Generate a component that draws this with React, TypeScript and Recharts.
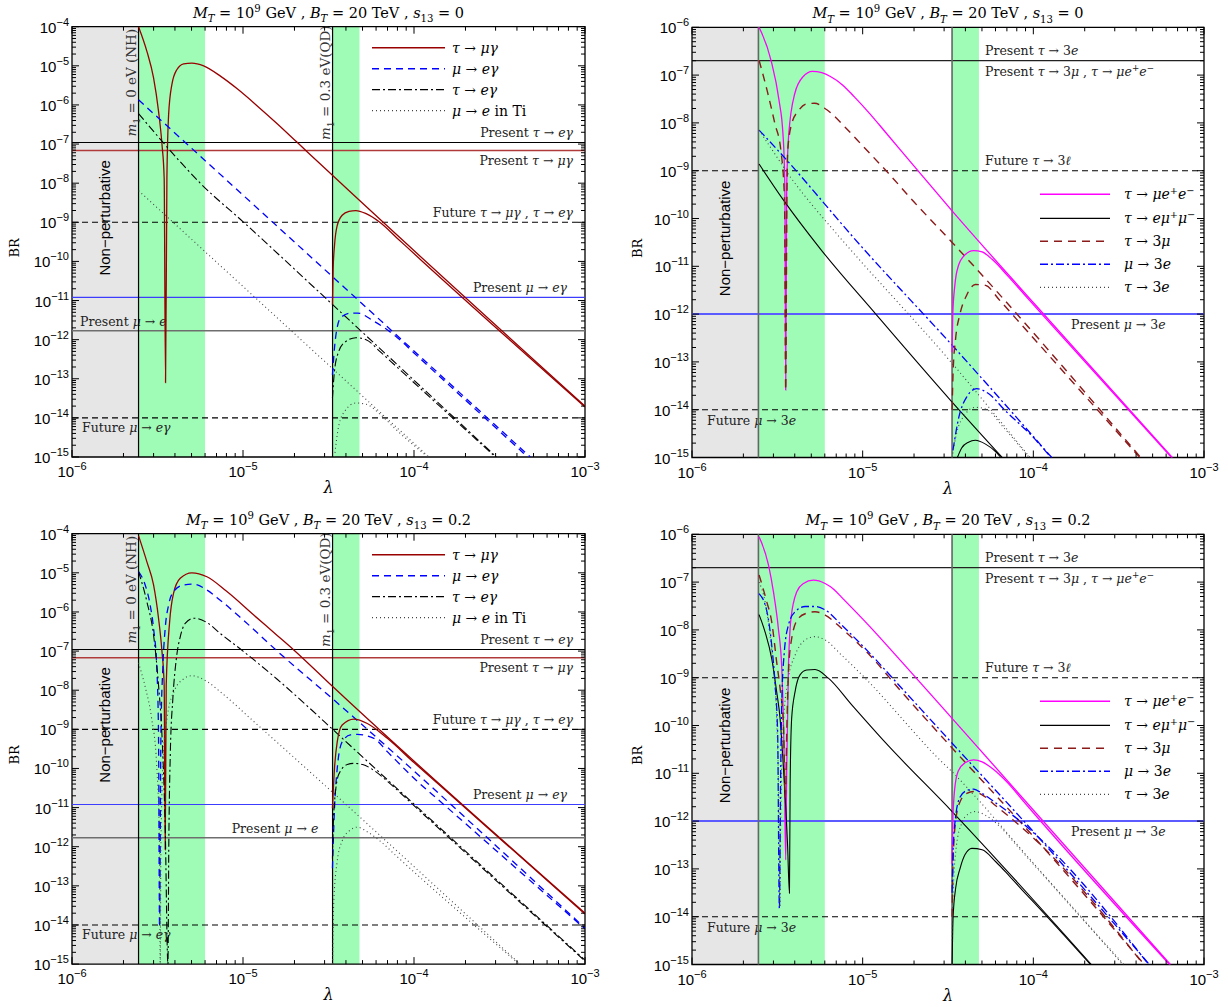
import React from "react";
import { LineChart, Line, XAxis, YAxis, ReferenceLine, ReferenceArea } from "recharts";

// every point is [log10(lambda), log10(BR)]
type Pt = [number, number];
type Seg = [string, string?];

const SERIF = "'DejaVu Serif', 'Liberation Serif', serif";
const SANS = "'Liberation Sans', 'DejaVu Sans', Arial, sans-serif";

const xExponents = [-6, -5, -4, -3];
const yExponentsLeft = [-15, -14, -13, -12, -11, -10, -9, -8, -7, -6, -5, -4];
const yExponentsRight = [-15, -14, -13, -12, -11, -10, -9, -8, -7, -6];

// lambda regions
const nhStart = 2.45e-6;
const nhBandEnd = 6.0e-6;
const qdStart = 3.34e-5;
const qdBandEnd = 4.8e-5;

// experimental bounds
const presentTauEGamma = 1.1e-7;
const presentTauMuGamma = 6.8e-8;
const futureTauGamma = 1e-9;
const presentMuEGamma = 1.2e-11;
const presentMuEConv = 1.7e-12;
const futureMuEGamma = 1e-14;
const presentTau3l = 2e-7;
const futureTau3l = 1e-9;
const presentMu3e = 1e-12;
const futureMu3e = 1e-14;

// ---- top left: s13 = 0, radiative decays ----
const a_tauMuGamma_NH: Pt[] = [[-5.611,-4.0],[-5.562,-4.63],[-5.523,-5.31],[-5.494,-6.16],[-5.474,-7.0],[-5.461,-7.87],[-5.453,-13.1],[-5.445,-7.87],[-5.435,-6.25],[-5.416,-5.48],[-5.387,-5.1],[-5.347,-4.95],[-5.299,-4.93],[-5.23,-5.0],[-5.13,-5.27],[-5.03,-5.6],[-4.91,-6.05],[-4.8,-6.48],[-4.685,-6.95],[-4.477,-7.8],[-3.0,-13.7]];
const a_tauMuGamma_QD: Pt[] = [[-4.477,-11.1],[-4.473,-10.2],[-4.465,-9.6],[-4.45,-9.1],[-4.42,-8.82],[-4.38,-8.72],[-4.34,-8.7],[-4.28,-8.78],[-4.2,-9.0],[-4.1,-9.4],[-3.95,-10.0],[-3.0,-13.72]];
const a_muEGamma_NH: Pt[] = [[-5.611,-5.87],[-3.32,-15.0]];
const a_muEGamma_QD: Pt[] = [[-4.477,-12.9],[-4.459,-11.96],[-4.429,-11.44],[-4.371,-11.32],[-4.332,-11.32],[-4.234,-11.53],[-4.097,-11.95],[-4.0,-12.34],[-3.335,-15.0]];
const a_tauEGamma_NH: Pt[] = [[-5.611,-6.22],[-5.465,-6.97],[-5.25,-8.0],[-4.996,-9.0],[-4.477,-11.1],[-3.518,-15.0]];
const a_tauEGamma_QD: Pt[] = [[-4.477,-13.5],[-4.465,-12.8],[-4.44,-12.3],[-4.4,-12.05],[-4.34,-11.95],[-4.28,-12.0],[-4.2,-12.3],[-4.1,-12.7],[-3.95,-13.3],[-3.518,-15.02]];
const a_muETi_NH: Pt[] = [[-5.611,-8.19],[-3.913,-15.0]];
const a_muETi_QD: Pt[] = [[-4.465,-15.0],[-4.44,-14.2],[-4.4,-13.8],[-4.34,-13.62],[-4.28,-13.65],[-4.2,-13.9],[-4.1,-14.32],[-3.913,-15.02]];

// ---- bottom left: s13 = 0.2, radiative decays ----
const c_tauMuGamma_NH: Pt[] = [[-5.611,-4.05],[-5.562,-4.72],[-5.523,-5.31],[-5.494,-6.16],[-5.474,-7.0],[-5.461,-7.87],[-5.455,-12.08],[-5.449,-7.87],[-5.429,-6.25],[-5.406,-5.52],[-5.367,-5.14],[-5.299,-5.0],[-5.211,-5.1],[-5.094,-5.48],[-4.937,-6.08],[-4.8,-6.6],[-4.703,-6.97],[-4.477,-7.9],[-3.0,-13.7]];
const c_tauMuGamma_QD: Pt[] = [[-4.477,-11.02],[-4.465,-10.0],[-4.449,-9.32],[-4.42,-8.89],[-4.351,-8.74],[-4.273,-8.85],[-4.156,-9.23],[-4.0,-9.85],[-3.8,-10.62],[-3.0,-13.72]];
const c_muEGamma_NH: Pt[] = [[-5.611,-4.97],[-5.572,-5.31],[-5.543,-5.82],[-5.523,-6.42],[-5.504,-7.44],[-5.494,-9.14],[-5.488,-14.05],[-5.48,-9.14],[-5.469,-7.44],[-5.455,-6.42],[-5.435,-5.82],[-5.406,-5.48],[-5.347,-5.31],[-5.289,-5.29],[-5.211,-5.44],[-5.133,-5.7],[-5.0,-6.2],[-4.8,-7.0],[-4.476,-8.22],[-3.0,-14.08]];
const c_muEGamma_QD: Pt[] = [[-4.477,-12.55],[-4.465,-11.02],[-4.449,-10.0],[-4.42,-9.32],[-4.371,-9.14],[-4.332,-9.13],[-4.234,-9.23],[-4.156,-9.57],[-4.0,-10.25],[-3.8,-11.02],[-3.0,-14.1]];
const c_tauEGamma_NH: Pt[] = [[-5.611,-4.97],[-5.562,-5.74],[-5.523,-6.59],[-5.494,-7.87],[-5.474,-9.14],[-5.455,-11.5],[-5.439,-15.0],[-5.434,-12.0],[-5.425,-9.6],[-5.41,-8.2],[-5.39,-7.2],[-5.365,-6.6],[-5.338,-6.29],[-5.289,-6.16],[-5.211,-6.27],[-5.133,-6.55],[-5.0,-7.0],[-4.8,-7.72],[-4.6,-8.5],[-4.476,-9.0],[-3.0,-14.9]];
const c_tauEGamma_QD: Pt[] = [[-4.477,-12.3],[-4.469,-11.1],[-4.44,-10.15],[-4.39,-9.9],[-4.351,-9.87],[-4.3,-9.9],[-4.234,-10.05],[-4.15,-10.35],[-4.0,-10.95],[-3.8,-11.75],[-3.0,-14.92]];
const c_muETi_NH: Pt[] = [[-5.611,-7.3],[-5.57,-7.95],[-5.535,-8.7],[-5.505,-9.9],[-5.488,-12.0],[-5.484,-15.0],[-5.48,-12.0],[-5.465,-9.6],[-5.44,-8.6],[-5.4,-8.0],[-5.35,-7.72],[-5.3,-7.63],[-5.21,-7.78],[-5.133,-8.04],[-4.937,-8.8],[-3.38,-15.0]];
const c_muETi_QD: Pt[] = [[-4.476,-15.0],[-4.47,-13.5],[-4.45,-12.4],[-4.42,-11.85],[-4.38,-11.6],[-4.33,-11.5],[-4.28,-11.6],[-4.2,-11.85],[-4.1,-12.25],[-3.38,-15.02]];

// ---- top right: s13 = 0, three-body decays ----
const b_tauMuEE_NH: Pt[] = [[-5.607,-6.0],[-5.537,-6.69],[-5.49,-7.53],[-5.467,-8.23],[-5.456,-9.3],[-5.451,-13.59],[-5.445,-9.3],[-5.433,-8.23],[-5.398,-7.39],[-5.351,-7.04],[-5.294,-6.92],[-5.24,-6.95],[-5.189,-7.03],[-5.12,-7.2],[-5.05,-7.45],[-4.96,-7.8],[-4.865,-8.2],[-4.7,-8.9],[-4.476,-9.84],[-3.99,-11.8],[-3.185,-15.0]];
const b_tauMuEE_QD: Pt[] = [[-4.476,-12.8],[-4.472,-12.0],[-4.46,-11.4],[-4.44,-11.0],[-4.4,-10.76],[-4.35,-10.67],[-4.3,-10.7],[-4.24,-10.86],[-4.15,-11.2],[-4.05,-11.6],[-3.95,-12.0],[-3.185,-15.02]];
const b_tauEMuMu_NH: Pt[] = [[-5.607,-8.86],[-5.467,-9.6],[-5.247,-10.64],[-4.923,-12.0],[-4.476,-13.84],[-4.182,-15.0]];
const b_tauEMuMu_QD: Pt[] = [[-4.445,-15.0],[-4.42,-14.8],[-4.38,-14.68],[-4.34,-14.64],[-4.28,-14.72],[-4.22,-14.88],[-4.19,-15.0]];
const b_tau3Mu_NH: Pt[] = [[-5.607,-6.69],[-5.56,-7.32],[-5.514,-8.02],[-5.479,-8.58],[-5.458,-9.6],[-5.451,-13.59],[-5.444,-9.6],[-5.439,-8.58],[-5.416,-8.02],[-5.375,-7.74],[-5.328,-7.6],[-5.282,-7.59],[-5.212,-7.72],[-5.1,-8.1],[-5.0,-8.48],[-4.85,-9.05],[-4.7,-9.65],[-4.476,-10.5],[-3.371,-15.0]];
const b_tau3Mu_QD: Pt[] = [[-4.476,-14.0],[-4.47,-13.2],[-4.455,-12.5],[-4.43,-12.0],[-4.39,-11.6],[-4.34,-11.38],[-4.28,-11.4],[-4.2,-11.7],[-4.1,-12.1],[-4.0,-12.5],[-3.371,-15.02]];
const b_mu3E_NH: Pt[] = [[-5.607,-8.15],[-5.49,-8.6],[-5.004,-10.6],[-4.476,-12.65],[-3.892,-15.0]];
const b_mu3E_QD: Pt[] = [[-4.471,-14.85],[-4.436,-14.15],[-4.39,-13.73],[-4.332,-13.56],[-4.263,-13.66],[-4.17,-14.0],[-4.0,-14.58],[-3.892,-15.02]];
const b_tau3E_NH: Pt[] = [[-5.607,-8.15],[-5.52,-8.62],[-5.42,-9.15],[-5.3,-9.7],[-5.15,-10.33],[-4.476,-13.03],[-4.02,-15.0]];
const b_tau3E_QD: Pt[] = [[-4.476,-15.0],[-4.45,-14.5],[-4.4,-14.1],[-4.34,-13.95],[-4.27,-14.0],[-4.18,-14.35],[-4.02,-15.02]];

// ---- bottom right: s13 = 0.2, three-body decays ----
const d_tauMuEE_NH: Pt[] = [[-5.607,-6.05],[-5.552,-6.64],[-5.523,-7.2],[-5.494,-7.97],[-5.474,-8.8],[-5.459,-10.9],[-5.451,-12.81],[-5.445,-10.9],[-5.435,-8.8],[-5.42,-7.76],[-5.386,-7.2],[-5.347,-7.03],[-5.289,-6.96],[-5.22,-7.03],[-5.17,-7.15],[-5.123,-7.32],[-4.966,-7.9],[-4.771,-8.67],[-4.476,-9.85],[-3.197,-15.0]];
const d_tauMuEE_QD: Pt[] = [[-4.476,-12.9],[-4.472,-12.0],[-4.46,-11.3],[-4.44,-10.95],[-4.4,-10.78],[-4.35,-10.72],[-4.3,-10.76],[-4.24,-10.9],[-4.15,-11.2],[-4.05,-11.62],[-3.95,-12.03],[-3.197,-15.02]];
const d_tauEMuMu_NH: Pt[] = [[-5.607,-7.68],[-5.572,-8.04],[-5.533,-8.6],[-5.504,-9.29],[-5.484,-9.85],[-5.464,-10.9],[-5.44,-12.5],[-5.429,-13.51],[-5.425,-11.25],[-5.416,-9.85],[-5.396,-9.29],[-5.367,-8.94],[-5.328,-8.84],[-5.279,-8.83],[-5.201,-9.01],[-5.064,-9.57],[-4.869,-10.35],[-4.476,-11.8],[-3.66,-15.0]];
const d_tauEMuMu_QD: Pt[] = [[-4.476,-15.0],[-4.47,-14.0],[-4.455,-13.4],[-4.43,-13.0],[-4.4,-12.7],[-4.36,-12.57],[-4.3,-12.6],[-4.22,-12.85],[-4.14,-13.15],[-4.05,-13.5],[-3.94,-13.92],[-3.66,-15.02]];
const d_tau3Mu_NH: Pt[] = [[-5.607,-6.85],[-5.562,-7.41],[-5.533,-7.83],[-5.504,-8.67],[-5.484,-9.22],[-5.464,-10.0],[-5.453,-11.5],[-5.444,-10.0],[-5.435,-8.9],[-5.416,-8.18],[-5.377,-7.76],[-5.328,-7.65],[-5.279,-7.62],[-5.22,-7.69],[-5.123,-7.97],[-4.966,-8.5],[-4.771,-9.3],[-4.476,-10.47],[-3.99,-12.36],[-3.35,-15.0]];
const d_tau3Mu_QD: Pt[] = [[-4.476,-14.0],[-4.47,-12.8],[-4.455,-12.0],[-4.43,-11.6],[-4.39,-11.42],[-4.35,-11.38],[-4.3,-11.45],[-4.22,-11.68],[-4.12,-11.97],[-4.0,-12.35],[-3.35,-15.02]];
const d_mu3E_NH: Pt[] = [[-5.607,-7.24],[-5.562,-7.6],[-5.533,-8.32],[-5.513,-9.15],[-5.498,-10.2],[-5.488,-13.83],[-5.48,-10.9],[-5.474,-9.5],[-5.459,-8.46],[-5.435,-7.9],[-5.396,-7.62],[-5.337,-7.51],[-5.279,-7.51],[-5.22,-7.58],[-5.123,-7.9],[-4.966,-8.46],[-4.771,-9.22],[-4.476,-10.37],[-3.99,-12.26],[-3.32,-15.0]];
const d_mu3E_QD: Pt[] = [[-4.476,-13.5],[-4.47,-12.6],[-4.455,-11.9],[-4.43,-11.5],[-4.39,-11.36],[-4.35,-11.33],[-4.3,-11.42],[-4.22,-11.62],[-4.12,-11.88],[-4.0,-12.24],[-3.32,-15.02]];
const d_tau3E_NH: Pt[] = [[-5.607,-7.0],[-5.572,-7.41],[-5.543,-8.11],[-5.523,-8.8],[-5.504,-9.85],[-5.49,-12.0],[-5.485,-13.8],[-5.48,-12.0],[-5.464,-9.92],[-5.435,-9.01],[-5.396,-8.53],[-5.337,-8.21],[-5.279,-8.14],[-5.22,-8.21],[-5.123,-8.53],[-4.966,-9.08],[-4.771,-9.85],[-4.576,-10.62],[-4.476,-10.97],[-3.99,-12.92],[-3.47,-15.0]];
const d_tau3E_QD: Pt[] = [[-4.476,-14.5],[-4.47,-13.5],[-4.45,-12.5],[-4.42,-12.05],[-4.38,-11.85],[-4.34,-11.8],[-4.28,-11.88],[-4.2,-12.1],[-4.1,-12.5],[-4.0,-12.9],[-3.47,-15.02]];

type LineStyle = { stroke: string; width: number; dash?: string };
const sTauMuGamma: LineStyle = { stroke: "#990000", width: 1.3 };
const sMuEGamma: LineStyle = { stroke: "#0000ff", width: 1.3, dash: "7 5" };
const sTauEGamma: LineStyle = { stroke: "#000000", width: 1.1, dash: "8 3 2 3" };
const sMuETi: LineStyle = { stroke: "#444444", width: 1.1, dash: "1 3" };
const sTauMuEE: LineStyle = { stroke: "#ff00ff", width: 1.3 };
const sTauEMuMu: LineStyle = { stroke: "#000000", width: 1.1 };
const sTau3Mu: LineStyle = { stroke: "#8b1a1a", width: 1.4, dash: "8 6" };
const sMu3E: LineStyle = { stroke: "#0000ff", width: 1.3, dash: "8 3 2 3" };
const sTau3E: LineStyle = { stroke: "#444444", width: 1.1, dash: "1 3" };

const nTauMuGamma: Seg[] = [["τ", "i"], [" → "], ["μγ", "i"]];
const nMuEGamma: Seg[] = [["μ", "i"], [" → "], ["eγ", "i"]];
const nTauEGamma: Seg[] = [["τ", "i"], [" → "], ["eγ", "i"]];
const nMuETi: Seg[] = [["μ", "i"], [" → "], ["e", "i"], [" in Ti"]];
const nTauMuEE: Seg[] = [["τ", "i"], [" → "], ["μe", "i"], ["+", "^"], ["e", "i"], ["−", "^"]];
const nTauEMuMu: Seg[] = [["τ", "i"], [" → "], ["eμ", "i"], ["+", "^"], ["μ", "i"], ["−", "^"]];
const nTau3Mu: Seg[] = [["τ", "i"], [" → 3"], ["μ", "i"]];
const nMu3E: Seg[] = [["μ", "i"], [" → 3"], ["e", "i"]];
const nTau3E: Seg[] = [["τ", "i"], [" → 3"], ["e", "i"]];

type Series = { name: Seg[]; style: LineStyle; nh: Pt[]; qd: Pt[] };

const toData = (pts: Pt[]) => pts.map(([lx, ly]) => ({ x: 10 ** lx, y: 10 ** ly }));

function svgMath(segs: Seg[], fs: number) {
  let cur = 0;
  return segs.map(([t, f = ""], i) => {
    const target = f.includes("^") ? -0.4 * fs : f.includes("_") ? 0.3 * fs : 0;
    const dy = target - cur;
    cur = target;
    return (
      <tspan key={i} dy={dy} fontStyle={f.includes("i") ? "italic" : "normal"} fontSize={target ? fs * 0.7 : fs}>
        {t}
      </tspan>
    );
  });
}

const isMajor = (v: number) => Math.abs(Math.log10(v) - Math.round(Math.log10(v))) < 1e-6;

function makeTicks(exps: number[]) {
  const out: number[] = [];
  exps.forEach((e, i) => {
    out.push(10 ** e);
    if (i < exps.length - 1) for (let k = 2; k <= 9; k++) out.push(k * 10 ** e);
  });
  return out;
}

function XTick(props: any) {
  const { x, payload, lT, lB } = props;
  const v = payload.value;
  const major = isMajor(v);
  const len = major ? 7 : 4;
  return (
    <g>
      <line x1={x} x2={x} y1={lB} y2={lB - len} stroke="#000" strokeWidth={1} />
      <line x1={x} x2={x} y1={lT} y2={lT + len} stroke="#000" strokeWidth={1} />
      {major && (
        <text x={x} y={lB + 20} textAnchor="middle" fontFamily={SANS} fontSize={15} fill="#000">
          10<tspan dy={-7} fontSize={11}>{"−" + String(-Math.round(Math.log10(v)))}</tspan>
        </text>
      )}
    </g>
  );
}

function YTick(props: any) {
  const { y, payload, lL, lR } = props;
  const v = payload.value;
  const major = isMajor(v);
  const len = major ? 7 : 4;
  return (
    <g>
      <line x1={lL} x2={lL + len} y1={y} y2={y} stroke="#000" strokeWidth={1} />
      <line x1={lR} x2={lR - len} y1={y} y2={y} stroke="#000" strokeWidth={1} />
      {major && (
        <text x={lL - 3} y={y + 6} textAnchor="end" fontFamily={SANS} fontSize={15} fill="#000">
          10<tspan dy={-7} fontSize={11}>{"−" + String(-Math.round(Math.log10(v)))}</tspan>
        </text>
      )}
    </g>
  );
}

type HLabel = { segs: Seg[]; anchor: "start" | "end" | "middle"; x: number; dy: number };
type HLine = { y: number; stroke: string; width: number; dash?: string; labels: HLabel[] };

type PanelProps = {
  left: number;
  top: number;
  plot: { l: number; r: number; t: number; b: number };
  yExps: number[];
  title: Seg[];
  series: Series[];
  hlines: HLine[];
  vColor: string;
  vWidth: number;
  vLabels: boolean;
  legend: { x1: number; x2: number; tx: number; rows: number[] };
  npDy: number;
};

const W = 614;
const H = 503;

function Panel(p: PanelProps) {
  const lL = p.plot.l - p.left;
  const lR = p.plot.r - p.left;
  const lT = p.plot.t - p.top;
  const lB = p.plot.b - p.top;
  const yMin = 10 ** p.yExps[0];
  const yMax = 10 ** p.yExps[p.yExps.length - 1];
  const xTicks = makeTicks(xExponents);
  const yTicks = makeTicks(p.yExps);
  const cx = (lL + lR) / 2;
  const cy = (lT + lB) / 2;
  const brX = p.left === 0 ? 19 : 28;

  return (
    <div style={{ position: "absolute", left: p.left, top: p.top, width: W, height: H }}>
      <LineChart width={W} height={H} margin={{ top: lT, right: W - lR, bottom: H - lB - 30, left: lL - 60 }}>
        <XAxis
          dataKey="x"
          type="number"
          scale="log"
          domain={[1e-6, 1e-3]}
          allowDataOverflow
          ticks={xTicks}
          interval={0}
          height={30}
          axisLine={false}
          tickLine={false}
          tick={(tp: any) => <XTick {...tp} lT={lT} lB={lB} />}
        />
        <YAxis
          type="number"
          scale="log"
          domain={[yMin, yMax]}
          allowDataOverflow
          ticks={yTicks}
          interval={0}
          width={60}
          axisLine={false}
          tickLine={false}
          tick={(tp: any) => <YTick {...tp} lL={lL} lR={lR} />}
        />
        <ReferenceArea
          x1={1e-6}
          x2={nhStart}
          y1={yMin}
          y2={yMax}
          fill="#e6e6e6"
          fillOpacity={1}
          stroke="none"
          label={(lp: any) => {
            const vb = lp.viewBox || {};
            const x = vb.x + vb.width / 2 + 5;
            const y = cy + p.npDy;
            return (
              <text x={x} y={y} transform={`rotate(-90 ${x} ${y})`} textAnchor="middle" fontFamily={SANS} fontSize={15} fill="#000">
                Non−perturbative
              </text>
            );
          }}
        />
        <ReferenceArea x1={nhStart} x2={nhBandEnd} y1={yMin} y2={yMax} fill="#9efcb6" fillOpacity={1} stroke="none" />
        <ReferenceArea x1={qdStart} x2={qdBandEnd} y1={yMin} y2={yMax} fill="#9efcb6" fillOpacity={1} stroke="none" />
        {p.hlines.map((h, i) => (
          <ReferenceLine
            key={"h" + i}
            y={h.y}
            stroke={h.stroke}
            strokeWidth={h.width}
            strokeDasharray={h.dash}
            label={(lp: any) => {
              const vb = lp.viewBox || {};
              return (
                <g>
                  {h.labels.map((lab, j) => (
                    <text key={j} x={lL + lab.x} y={vb.y + lab.dy} textAnchor={lab.anchor} fontFamily={SERIF} fontSize={12.5} fill="#222" style={{ whiteSpace: "pre" }}>
                      {svgMath(lab.segs, 12.5)}
                    </text>
                  ))}
                </g>
              );
            }}
          />
        ))}
        <ReferenceLine
          x={nhStart}
          stroke={p.vColor}
          strokeWidth={p.vWidth}
          label={(lp: any) => {
            if (!p.vLabels) return <g />;
            const vb = lp.viewBox || {};
            const x = vb.x - 3;
            const y = lT + 56;
            return (
              <text x={x} y={y} transform={`rotate(-90 ${x} ${y})`} textAnchor="middle" fontFamily={SERIF} fontSize={13.5} fill="#333" style={{ whiteSpace: "pre" }}>
                {svgMath([["m", "i"], ["1", "_"], [" = 0 eV (NH)"]], 13.5)}
              </text>
            );
          }}
        />
        <ReferenceLine
          x={qdStart}
          stroke={p.vColor}
          strokeWidth={p.vWidth}
          label={(lp: any) => {
            if (!p.vLabels) return <g />;
            const vb = lp.viewBox || {};
            const x = vb.x - 3;
            const y = lT + 56;
            return (
              <text x={x} y={y} transform={`rotate(-90 ${x} ${y})`} textAnchor="middle" fontFamily={SERIF} fontSize={13.5} fill="#333" style={{ whiteSpace: "pre" }}>
                {svgMath([["m", "i"], ["1", "_"], [" = 0.3 eV(QD)"]], 13.5)}
              </text>
            );
          }}
        />
        {p.series.map((s, i) => (
          <Line
            key={"nh" + i}
            data={toData(s.nh)}
            dataKey="y"
            type="monotoneX"
            stroke={s.style.stroke}
            strokeWidth={s.style.width}
            strokeDasharray={s.style.dash}
            dot={false}
            activeDot={false}
            isAnimationActive={false}
          />
        ))}
        {p.series.map((s, i) => (
          <Line
            key={"qd" + i}
            data={toData(s.qd)}
            dataKey="y"
            type="monotoneX"
            stroke={s.style.stroke}
            strokeWidth={s.style.width}
            strokeDasharray={s.style.dash}
            dot={false}
            activeDot={false}
            isAnimationActive={false}
          />
        ))}
        <ReferenceArea x1={1e-6} x2={1e-3} y1={yMin} y2={yMax} fill="none" stroke="#000" strokeWidth={1.3} />
      </LineChart>

      <svg width={W} height={H} style={{ position: "absolute", left: 0, top: 0, pointerEvents: "none" }}>
        {p.series.map((s, i) => {
          const y = lT + p.legend.rows[i];
          return (
            <g key={i}>
              <line x1={lL + p.legend.x1} x2={lL + p.legend.x2} y1={y} y2={y} stroke={s.style.stroke} strokeWidth={s.style.width + 0.2} strokeDasharray={s.style.dash} />
              <text x={lL + p.legend.tx} y={y + 5} fontFamily={SERIF} fontSize={14} fill="#000" style={{ whiteSpace: "pre" }}>
                {svgMath(s.name, 14)}
              </text>
            </g>
          );
        })}
        <text x={brX} y={cy + 6} transform={`rotate(-90 ${brX} ${cy + 6})`} textAnchor="middle" fontFamily={SERIF} fontSize={13} fill="#000">
          BR
        </text>
        <text x={cx} y={lB + 36} textAnchor="middle" fontFamily={SERIF} fontStyle="italic" fontSize={16} fill="#000">
          λ
        </text>
        <text x={cx} y={lT - 9} textAnchor="middle" fontFamily={SERIF} fontSize={14.5} fill="#000" style={{ whiteSpace: "pre" }}>
          {svgMath(p.title, 14.5)}
        </text>
      </svg>
    </div>
  );
}

const titleS0: Seg[] = [["M", "i"], ["T", "i_"], [" = 10"], ["9", "^"], [" GeV , "], ["B", "i"], ["T", "i_"], [" = 20 TeV , "], ["s", "i"], ["13", "_"], [" = 0"]];
const titleS02: Seg[] = [["M", "i"], ["T", "i_"], [" = 10"], ["9", "^"], [" GeV , "], ["B", "i"], ["T", "i_"], [" = 20 TeV , "], ["s", "i"], ["13", "_"], [" = 0.2"]];

const leftHLines = (muEConvX: number, muEConvAnchor: "start" | "middle"): HLine[] => [
  { y: presentTauEGamma, stroke: "#000", width: 1.1, labels: [{ segs: [["Present "], ["τ", "i"], [" → "], ["eγ", "i"]], anchor: "end", x: 501, dy: -5 }] },
  { y: presentTauMuGamma, stroke: "#b03a3a", width: 1.5, labels: [{ segs: [["Present "], ["τ", "i"], [" → "], ["μγ", "i"]], anchor: "end", x: 501, dy: 14 }] },
  { y: futureTauGamma, stroke: "#000", width: 1.1, dash: "6 4", labels: [{ segs: [["Future "], ["τ", "i"], [" → "], ["μγ", "i"], [" , "], ["τ", "i"], [" → "], ["eγ", "i"]], anchor: "end", x: 501, dy: -5 }] },
  { y: presentMuEGamma, stroke: "#3c3cff", width: 1.2, labels: [{ segs: [["Present "], ["μ", "i"], [" → "], ["eγ", "i"]], anchor: "end", x: 495, dy: -5 }] },
  { y: presentMuEConv, stroke: "#6e6e6e", width: 1.5, labels: [{ segs: [["Present "], ["μ", "i"], [" → "], ["e", "i"]], anchor: muEConvAnchor, x: muEConvX, dy: -5 }] },
  { y: futureMuEGamma, stroke: "#000", width: 1.1, dash: "6 4", labels: [{ segs: [["Future "], ["μ", "i"], [" → "], ["eγ", "i"]], anchor: "start", x: 10, dy: 14 }] },
];

const rightHLines: HLine[] = [
  {
    y: presentTau3l,
    stroke: "#222",
    width: 1.2,
    labels: [
      { segs: [["Present "], ["τ", "i"], [" → 3"], ["e", "i"]], anchor: "start", x: 293, dy: -6 },
      { segs: [["Present "], ["τ", "i"], [" → 3"], ["μ", "i"], [" , "], ["τ", "i"], [" → "], ["μe", "i"], ["+", "^"], ["e", "i"], ["−", "^"]], anchor: "start", x: 293, dy: 15 },
    ],
  },
  { y: futureTau3l, stroke: "#000", width: 1.1, dash: "6 4", labels: [{ segs: [["Future "], ["τ", "i"], [" → 3"], ["ℓ", "i"]], anchor: "start", x: 293, dy: -6 }] },
  { y: presentMu3e, stroke: "#5b5bff", width: 2, labels: [{ segs: [["Present "], ["μ", "i"], [" → 3"], ["e", "i"]], anchor: "start", x: 379, dy: 15 }] },
  { y: futureMu3e, stroke: "#000", width: 1.1, dash: "6 4", labels: [{ segs: [["Future "], ["μ", "i"], [" → 3"], ["e", "i"]], anchor: "start", x: 15, dy: 15 }] },
];

const seriesA: Series[] = [
  { name: nTauMuGamma, style: sTauMuGamma, nh: a_tauMuGamma_NH, qd: a_tauMuGamma_QD },
  { name: nMuEGamma, style: sMuEGamma, nh: a_muEGamma_NH, qd: a_muEGamma_QD },
  { name: nTauEGamma, style: sTauEGamma, nh: a_tauEGamma_NH, qd: a_tauEGamma_QD },
  { name: nMuETi, style: sMuETi, nh: a_muETi_NH, qd: a_muETi_QD },
];
const seriesC: Series[] = [
  { name: nTauMuGamma, style: sTauMuGamma, nh: c_tauMuGamma_NH, qd: c_tauMuGamma_QD },
  { name: nMuEGamma, style: sMuEGamma, nh: c_muEGamma_NH, qd: c_muEGamma_QD },
  { name: nTauEGamma, style: sTauEGamma, nh: c_tauEGamma_NH, qd: c_tauEGamma_QD },
  { name: nMuETi, style: sMuETi, nh: c_muETi_NH, qd: c_muETi_QD },
];
const seriesB: Series[] = [
  { name: nTauMuEE, style: sTauMuEE, nh: b_tauMuEE_NH, qd: b_tauMuEE_QD },
  { name: nTauEMuMu, style: sTauEMuMu, nh: b_tauEMuMu_NH, qd: b_tauEMuMu_QD },
  { name: nTau3Mu, style: sTau3Mu, nh: b_tau3Mu_NH, qd: b_tau3Mu_QD },
  { name: nMu3E, style: sMu3E, nh: b_mu3E_NH, qd: b_mu3E_QD },
  { name: nTau3E, style: sTau3E, nh: b_tau3E_NH, qd: b_tau3E_QD },
];
const seriesD: Series[] = [
  { name: nTauMuEE, style: sTauMuEE, nh: d_tauMuEE_NH, qd: d_tauMuEE_QD },
  { name: nTauEMuMu, style: sTauEMuMu, nh: d_tauEMuMu_NH, qd: d_tauEMuMu_QD },
  { name: nTau3Mu, style: sTau3Mu, nh: d_tau3Mu_NH, qd: d_tau3Mu_QD },
  { name: nMu3E, style: sMu3E, nh: d_mu3E_NH, qd: d_mu3E_QD },
  { name: nTau3E, style: sTau3E, nh: d_tau3E_NH, qd: d_tau3E_QD },
];

const leftLegend = { x1: 300, x2: 373, tx: 380, rows: [21, 42, 63, 84] };
const rightLegend = { x1: 348, x2: 418, tx: 432, rows: [167, 191, 214, 237, 260] };

export default function App() {
  return (
    <div style={{ position: "absolute", left: 0, top: 0, width: 1228, height: 1007, background: "#fff", overflow: "hidden" }}>
      <Panel left={0} top={0} plot={{ l: 72, r: 585, t: 26.7, b: 457 }} yExps={yExponentsLeft} title={titleS0} series={seriesA}
        hlines={leftHLines(8, "start")} vColor="#000" vWidth={1.2} vLabels legend={leftLegend} npDy={-24} />
      <Panel left={614} top={0} plot={{ l: 692, r: 1204, t: 27.3, b: 457.5 }} yExps={yExponentsRight} title={titleS0} series={seriesB}
        hlines={rightHLines} vColor="#666" vWidth={1.6} vLabels={false} legend={rightLegend} npDy={-4} />
      <Panel left={0} top={504} plot={{ l: 72, r: 585, t: 533.7, b: 964.1 }} yExps={yExponentsLeft} title={titleS02} series={seriesC}
        hlines={leftHLines(203, "middle")} vColor="#000" vWidth={1.2} vLabels legend={leftLegend} npDy={-24} />
      <Panel left={614} top={504} plot={{ l: 692, r: 1204, t: 534.3, b: 964.5 }} yExps={yExponentsRight} title={titleS02} series={seriesD}
        hlines={rightHLines} vColor="#666" vWidth={1.6} vLabels={false} legend={rightLegend} npDy={-4} />
    </div>
  );
}
